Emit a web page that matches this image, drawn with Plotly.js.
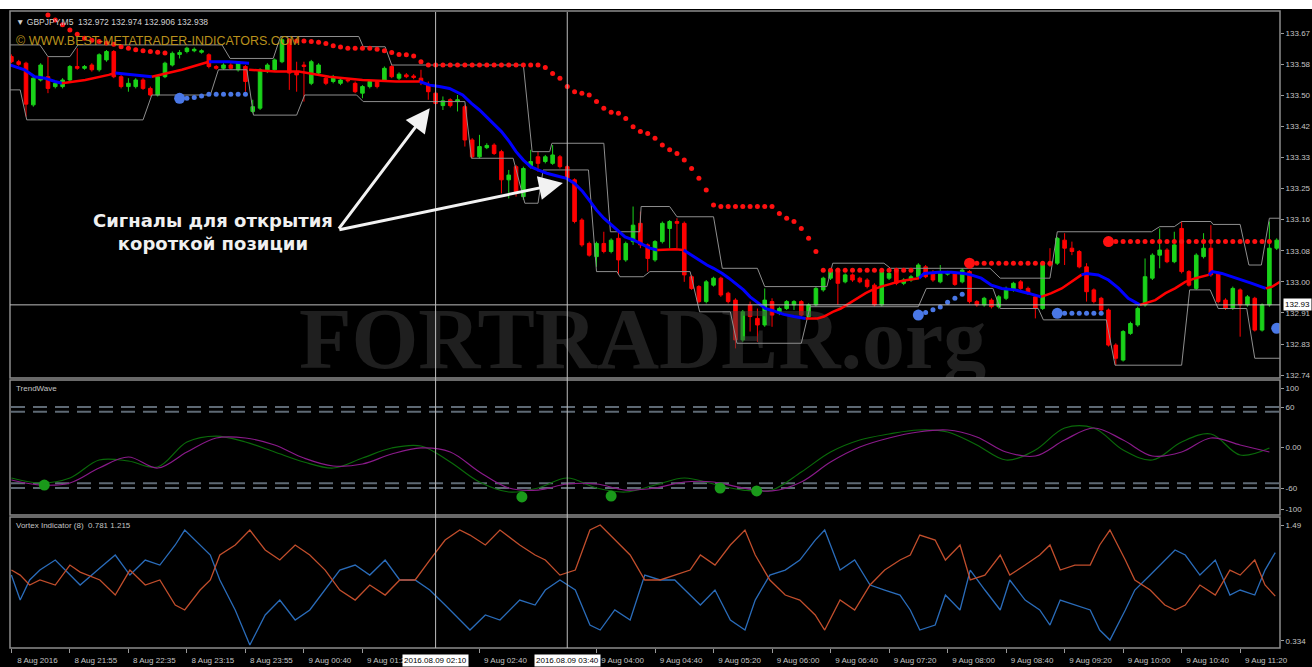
<!DOCTYPE html>
<html><head><meta charset="utf-8">
<script src="https://cdn.plot.ly/plotly-3.0.1.min.js"></script>
<style>html,body{margin:0;padding:0;background:#000;}#chart{width:1312px;height:667px;}</style>
</head><body><div id="chart"></div>
<script>
// ---------- price candles (GBPJPY M5), bar index 0 = 8 Aug 21:15 ----------
const opens = [133.611,133.597,133.593,133.479,133.547,133.556,133.529,133.529,133.547,133.584,
133.579,133.588,133.575,133.602,133.625,133.556,133.529,133.529,133.547,133.524,
133.506,133.556,133.588,133.617,133.625,133.627,133.623,133.616,133.584,133.579,
133.588,133.575,133.584,133.461,133.470,133.570,133.575,133.597,133.657,133.570,
133.588,133.538,133.566,133.552,133.543,133.538,133.547,133.538,133.511,133.529,
133.543,133.547,133.584,133.552,133.561,133.558,133.552,133.533,133.511,133.477,
133.493,133.488,133.474,133.383,133.337,133.362,133.369,133.351,133.274,133.310,
133.228,133.310,133.337,133.324,133.319,133.337,133.310,133.274,133.164,133.100,
133.064,133.100,133.078,133.114,133.055,133.105,133.155,133.096,133.055,133.105,
133.141,133.160,133.155,133.009,132.982,132.941,132.986,133.005,132.964,132.945,
132.836,132.932,132.895,132.877,132.941,132.909,132.922,132.932,132.941,132.900,
132.932,132.973,133.005,133.030,132.995,133.014,133.005,133.000,132.986,132.932,
133.005,133.023,132.991,133.000,133.009,133.036,133.018,132.995,133.016,133.018,
132.995,133.023,132.941,132.932,132.945,132.927,132.950,132.973,132.995,132.977,
132.954,132.922,133.046,133.046,133.109,133.087,133.078,133.036,132.973,132.950,
132.918,132.822,132.781,132.854,132.877,132.932,133.005,133.068,133.082,133.050,
133.141,133.023,132.977,133.064,133.087,133.018,132.945,132.922,132.973,132.932,
132.950,132.863,132.932,133.087];
const highs = [133.617,133.602,133.597,133.556,133.593,133.611,133.543,133.552,133.588,133.634,
133.588,133.593,133.620,133.629,133.629,133.561,133.552,133.552,133.552,133.529,
133.561,133.597,133.625,133.629,133.638,133.636,133.631,133.620,133.588,133.593,
133.593,133.597,133.588,133.493,133.579,133.593,133.606,133.661,133.661,133.597,
133.597,133.602,133.593,133.556,133.561,133.552,133.552,133.543,133.533,133.547,
133.547,133.584,133.588,133.568,133.566,133.563,133.575,133.543,133.515,133.502,
133.497,133.506,133.479,133.388,133.397,133.374,133.374,133.356,133.301,133.315,
133.310,133.356,133.351,133.342,133.369,133.342,133.315,133.278,133.169,133.105,
133.105,133.132,133.114,133.132,133.105,133.201,133.187,133.100,133.109,133.160,
133.164,133.169,133.160,133.014,132.986,133.000,133.009,133.009,132.968,132.950,
132.918,132.941,132.922,132.977,132.950,132.927,132.945,132.945,132.945,132.936,
132.982,133.009,133.032,133.034,133.018,133.018,133.009,133.005,132.991,133.027,
133.023,133.027,133.005,133.014,133.046,133.041,133.027,133.041,133.025,133.023,
133.032,133.027,132.945,132.954,132.950,132.959,132.982,132.995,133.000,132.982,
132.959,133.050,133.087,133.118,133.128,133.105,133.082,133.046,132.977,132.954,
132.922,132.827,132.863,132.886,132.927,133.059,133.073,133.141,133.087,133.132,
133.160,133.027,133.073,133.128,133.150,133.023,132.950,132.982,132.977,132.959,
132.954,132.936,133.160,133.114];
const lows = [133.593,133.586,133.447,133.474,133.543,133.511,133.524,133.524,133.543,133.575,
133.575,133.570,133.570,133.597,133.552,133.524,133.515,133.524,133.520,133.502,
133.502,133.552,133.584,133.606,133.620,133.623,133.619,133.579,133.575,133.575,
133.575,133.570,133.515,133.456,133.465,133.566,133.570,133.593,133.520,133.515,
133.488,133.533,133.561,133.533,133.538,133.533,133.540,133.511,133.497,133.524,
133.524,133.543,133.552,133.547,133.552,133.549,133.533,133.493,133.479,133.465,
133.472,133.461,133.365,133.333,133.333,133.358,133.342,133.237,133.223,133.228,
133.219,133.305,133.296,133.319,133.315,133.305,133.274,133.155,133.091,133.064,
133.036,133.073,133.073,133.014,133.050,133.096,133.087,133.023,133.050,133.100,
133.087,133.087,132.995,132.973,132.936,132.936,132.982,132.954,132.936,132.813,
132.831,132.859,132.831,132.872,132.872,132.904,132.918,132.918,132.900,132.895,
132.927,132.968,133.000,132.932,132.991,132.995,132.991,132.977,132.927,132.927,
133.000,132.986,132.986,132.995,133.005,133.005,132.995,132.991,133.012,132.984,
132.991,132.936,132.927,132.927,132.922,132.922,132.945,132.968,132.973,132.959,
132.895,132.918,133.036,133.041,133.041,133.068,133.032,132.941,132.936,132.913,
132.818,132.767,132.777,132.850,132.872,132.927,133.000,133.032,133.046,133.046,
133.018,132.982,132.973,133.059,133.009,132.936,132.918,132.918,132.845,132.927,
132.859,132.859,132.927,133.082];
const closes = [133.597,133.590,133.481,133.552,133.588,133.524,133.538,133.547,133.584,133.579,
133.584,133.575,133.616,133.625,133.556,133.529,133.538,133.547,133.524,133.506,
133.556,133.593,133.620,133.622,133.634,133.631,133.627,133.584,133.579,133.588,
133.579,133.593,133.543,133.474,133.575,133.588,133.602,133.657,133.566,133.561,
133.584,133.597,133.588,133.538,133.556,133.547,133.545,133.515,133.529,133.543,
133.529,133.579,133.556,133.563,133.556,133.554,133.543,133.515,133.483,133.490,
133.477,133.493,133.383,133.337,133.365,133.368,133.346,133.274,133.287,133.242,
133.305,133.324,133.319,133.337,133.342,133.310,133.278,133.160,133.096,133.068,
133.100,133.078,133.109,133.055,133.100,133.150,133.096,133.059,133.105,133.155,
133.160,133.155,133.014,132.977,132.941,132.995,133.005,132.959,132.941,132.836,
132.913,132.900,132.877,132.945,132.904,132.922,132.941,132.941,132.904,132.932,
132.977,133.005,133.027,132.991,133.014,133.000,132.995,132.982,132.932,133.023,
133.018,132.991,133.000,133.009,133.041,133.009,133.000,133.018,133.021,132.988,
133.027,132.941,132.932,132.950,132.927,132.954,132.977,132.991,132.977,132.964,
132.922,133.046,133.041,133.114,133.087,133.078,133.036,132.968,132.941,132.918,
132.822,132.786,132.859,132.881,132.922,133.009,133.068,133.082,133.050,133.096,
133.023,132.986,133.068,133.087,133.014,132.941,132.922,132.977,132.932,132.954,
132.863,132.932,133.087,133.109];

// ---------- price channel (gray) breakpoints ----------
const bandUpX = [-0.2,3.9,5.0,8.0,9.1,28.8,29.9,35.8,36.8,47.5,48.1,51.1,52.0,70.0,71.2,73.6,73.9,81.0,81.9,85.9,86.1,90.0,91.0,96.0,97.2,102.0,103.0,111.5,112.3,119.3,120.2,133.8,135.2,142.0,143.0,155.9,157.0,159.0,160.0,164.0,164.3,168.0,169.2,170.9,172.0,173.45];
const bandUpY = [133.643,133.643,133.611,133.611,133.643,133.643,133.606,133.606,133.666,133.666,133.638,133.638,133.588,133.588,133.351,133.351,133.374,133.374,133.132,133.132,133.201,133.201,133.173,133.173,133.032,133.032,132.982,132.982,133.046,133.046,133.032,133.032,133.005,133.005,133.132,133.132,133.146,133.146,133.160,133.160,133.152,133.152,133.041,133.041,133.169,133.169];
const bandLoX = [-0.2,1.2,2.1,18.0,19.2,27.2,28.3,32.2,33.1,39.0,40.1,47.2,48.1,62.0,62.9,68.6,70.2,72.0,72.7,78.9,80.0,82.8,83.2,86.4,87.3,92.8,94.1,98.3,99.2,108.0,109.2,124.0,125.1,134.2,135.2,140.4,141.1,149.7,150.9,160.0,161.1,163.9,165.0,168.9,170.0,173.45];
const bandLoY = [133.520,133.520,133.438,133.438,133.506,133.506,133.575,133.575,133.451,133.451,133.506,133.506,133.488,133.488,133.333,133.333,133.210,133.210,133.301,133.301,133.023,133.023,133.009,133.009,133.023,133.023,132.913,132.913,132.827,132.827,132.927,132.927,132.977,132.977,132.922,132.922,132.891,132.891,132.767,132.767,132.973,132.973,132.922,132.922,132.786,132.786];

// ---------- trend MA (blue / red segments) ----------
const maBlueX = [-0.2,1.8,3.2,4.6,5.95,6.9,null,14.2,16.9,19.2,null,27.0,29.7,32.5,null,
55.8,57.2,58.5,59.9,61.7,62.9,64.0,64.9,65.9,67.0,68.1,69.0,70.0,71.0,72.0,73.2,74.5,75.9,77.0,78.1,79.1,80.0,81.0,82.1,83.0,83.9,85.1,86.0,87.3,88.3,null,
91.9,94.0,95.1,96.0,97.2,98.1,99.2,100.1,101.0,102.2,103.1,104.3,105.6,107.0,108.6,null,
124.1,124.8,126.7,128.5,130.3,131.2,132.6,134.0,135.4,137.2,139.0,140.8,null,
146.3,147.0,148.6,150.0,151.4,152.7,154.3,null,
163.7,164.2,165.5,166.9,168.3,169.6,171.5];
const maBlueY = [133.588,133.575,133.556,133.552,133.543,133.538,null,133.566,133.561,133.556,null,133.597,133.597,133.593,null,
133.543,133.533,133.529,133.524,133.506,133.483,133.465,133.447,133.429,133.406,133.378,133.351,133.328,133.310,133.301,133.292,133.285,133.278,133.264,133.242,133.216,133.191,133.169,133.150,133.132,133.118,133.109,133.100,133.087,133.082,null,
133.082,133.055,133.041,133.032,133.018,133.005,132.986,132.973,132.954,132.936,132.922,132.915,132.906,132.900,132.895,null,
133.005,133.018,133.021,133.021,133.018,133.014,133.005,132.986,132.977,132.973,132.964,132.954,null,
133.014,133.018,133.014,133.000,132.977,132.950,132.932,null,
133.014,133.023,133.018,133.009,133.000,132.991,132.977];
const maRedX = [6.9,10.1,13.3,14.2,null,19.2,23.3,27.0,null,32.5,36.1,39.3,43.45,48.0,52.6,55.8,null,
88.3,90.8,91.9,null,
108.6,110.2,111.1,112.3,113.4,114.5,115.7,116.8,117.7,118.9,120.0,121.2,122.5,124.1,null,
140.8,142.2,143.6,145.0,146.3,null,
154.3,156.4,157.8,159.1,160.5,161.9,163.7,null,
171.5,172.4,173.45];
const maRedY = [133.538,133.547,133.561,133.566,null,133.556,133.575,133.597,null,133.575,133.570,133.570,133.556,133.547,133.543,133.543,null,
133.082,133.084,133.082,null,
132.895,132.895,132.900,132.913,132.922,132.936,132.950,132.964,132.973,132.982,132.988,132.995,133.000,133.005,null,
132.954,132.964,132.977,132.995,133.014,null,
132.932,132.945,132.964,132.977,132.995,133.005,133.014,null,
132.977,132.982,132.995];

// ---------- stop dots: start bar + values ----------
const redStopA_start = 5;
const redStopA = [133.725,133.711,133.698,133.684,133.672,133.661,133.656,133.652,133.648,133.645,133.638,133.634,133.630,133.627,133.625,133.623,133.621];
const redStopB_start = 38;
const redStopB = [133.654,133.654,133.654,133.652,133.650,133.647,133.641,133.637,133.634,133.634,
133.634,133.634,133.631,133.627,133.622,133.617,133.616,133.613,133.597,
133.588,133.588,133.588,133.588,133.588,133.588,133.588,133.588,133.588,133.588,133.588,133.588,133.588,133.588,133.588,133.588,
133.581,133.565,133.552,133.529,133.515,133.511,133.506,133.488,133.470,133.459,133.456,133.442,133.419,133.406,133.401,
133.388,133.369,133.356,133.346,133.328,133.305,133.278,133.246,133.205,
133.201,133.201,133.201,133.201,133.201,133.201,133.201,133.201,
133.182,133.169,133.160,133.141,133.114,133.078,
133.027,133.027,133.027,133.027,133.027,133.027,133.027,133.027,133.027,133.027,133.027,133.027,133.027];
const redStopC_start = 131;
const redStopC = [133.046,133.046,133.046,133.046,133.046,133.046,133.046,133.046,133.046,133.046,133.046,133.046];
const redStopD_start = 150;
const redStopD = [133.105,133.105,133.105,133.105,133.105,133.105,133.105,133.105,133.105,133.105,133.105,133.105,
133.105,133.105,133.105,133.105,133.105,133.105,133.105,133.105,133.105,133.105,133.105];
const blueStopE_start = 23;
const blueStopE = [133.497,133.497,133.499,133.503,133.508,133.508,133.508,133.508,133.508,133.508];
const blueStopF_start = 124;
const blueStopF = [132.904,132.911,132.919,132.926,132.939,132.950,132.961];
const blueStopG_start = 143;
const blueStopG = [132.909,132.909,132.909,132.909,132.909,132.909,132.909];
const blueStopH_start = 173;
const blueStopH = [132.868];

// ---------- TrendWave ----------
const twBars = [0,4,8,12,16,20,24,28,32,36,40,44,48,52,56,60,64,68,72,76,80,84,88,92,96,100,104,108,112,116,120,124,128,132,136,140,144,148,152,156,160,164,168,172];
const twGreen = [-45.2,-52.6,-45.2,-18.5,-20.0,-28.9,8.1,17.0,8.1,-6.7,-21.5,-30.4,-15.6,-0.7,2.2,-21.5,-51.1,-65.9,-60.0,-45.2,-60.0,-65.9,-55.6,-45.2,-54.1,-63.0,-63.0,-36.3,-6.7,11.1,20.0,25.9,23.0,3.7,-18.5,-3.7,28.9,28.9,-3.7,-18.5,8.1,20.0,-11.1,-0.7];
const twPurple = [-48.1,-55.6,-52.6,-30.4,-14.1,-30.4,-6.7,14.1,14.1,3.7,-15.6,-27.4,-24.4,-9.6,-0.7,-6.7,-36.3,-60.0,-63.0,-54.1,-54.1,-63.0,-60.0,-51.1,-51.1,-60.0,-64.4,-51.1,-21.5,0.7,14.1,23.0,25.9,15.6,-6.7,-12.6,11.1,28.9,11.1,-12.6,-6.7,14.1,3.7,-6.7];
const twSignalBars = [4.5,69.8,82.0,96.9,101.9];
const twSignalVals = [-55.6,-73.3,-71.9,-60.0,-64.4];
const twLevels = [60,53,-53,-60];

// ---------- Vortex (8) ----------
const vxBars = [0,1.2,2.5,3.9,6.0,8.0,9.4,12.1,14.2,16.2,18.3,20.3,22.4,23.7,25.8,27.2,28.5,30.6,32.6,34.7,36.7,38.8,40.8,42.9,44.9,47.0,49.0,51.1,53.1,55.2,57.2,59.3,61.3,62.7,64.8,66.8,69.5,71.6,73.0,75.0,77.1,79.1,80.5,82.5,84.6,86.6,88.7,90.7,92.8,94.2,96.2,98.3,100.3,101.7,103.7,105.8,107.8,109.9,111.2,113.3,115.3,117.4,119.4,121.5,122.9,124.2,126.3,127.7,129.7,131.1,133.1,135.2,136.5,138.6,140.6,142.0,143.4,145.4,147.5,148.8,150.2,152.3,153.6,155.7,157.7,159.1,160.5,162.5,164.6,166.6,168.0,170.0,171.4,172.8];
const vxBlue = [0.991,0.742,0.942,1.041,1.141,0.991,0.892,1.061,1.191,0.991,1.141,1.091,1.291,1.440,1.291,1.191,0.942,0.643,0.294,0.593,0.742,0.543,0.643,0.842,1.041,1.091,0.991,1.141,0.942,0.942,0.842,0.692,0.543,0.443,0.593,0.543,0.742,0.692,0.842,0.942,0.842,0.493,0.443,0.643,0.543,0.991,0.942,0.942,0.792,0.692,0.842,0.543,0.443,0.742,0.991,1.041,1.141,1.340,1.440,1.041,1.141,0.892,0.842,0.792,0.643,0.443,0.493,0.792,0.643,1.041,0.842,0.643,0.942,0.742,0.643,0.493,0.742,0.692,0.643,0.443,0.343,0.643,0.842,0.991,1.141,1.241,1.191,0.991,1.141,0.792,0.842,0.792,1.041,1.215];
const vxOrange = [1.041,0.991,0.892,0.942,0.892,1.091,1.021,0.942,0.792,1.041,0.892,0.942,0.692,0.643,0.842,0.942,1.191,1.291,1.440,1.241,1.141,1.291,1.191,1.041,0.842,0.742,0.892,0.792,0.942,0.942,1.141,1.340,1.440,1.390,1.291,1.440,1.291,1.191,1.141,0.991,1.041,1.440,1.490,1.340,1.191,0.942,0.942,0.991,1.041,1.191,1.091,1.291,1.440,1.191,0.942,0.792,0.742,0.593,0.443,0.742,0.643,0.892,1.041,1.141,1.191,1.390,1.340,1.141,1.291,0.942,0.991,1.191,0.991,1.091,1.191,1.291,1.041,1.091,1.091,1.291,1.440,1.141,0.942,0.842,0.692,0.643,0.692,0.892,0.792,1.041,0.991,1.141,0.892,0.781];

// ---------- axis labels ----------
const timeTickBars = [0,8,16,24,32,40,48,64,80,88,96,104,112,120,128,136,144,152,160,168];
const timeTickText = ["8 Aug 2016","8 Aug 21:55","8 Aug 22:35","8 Aug 23:15","8 Aug 23:55","9 Aug 00:40","9 Aug 01:20","9 Aug 02:40","9 Aug 04:00","9 Aug 04:40","9 Aug 05:20","9 Aug 06:00","9 Aug 06:40","9 Aug 07:20","9 Aug 08:00","9 Aug 08:40","9 Aug 09:20","9 Aug 10:00","9 Aug 10:40","9 Aug 11:20"];
const priceTicks = [133.675,133.590,133.505,133.420,133.335,133.250,133.165,133.080,132.995,132.910,132.825,132.740];
const priceTickText = ["133.67","133.58","133.50","133.42","133.33","133.25","133.16","133.08","133.00","132.91","132.83","132.74"];
const cursorBars = [58,76];
const cursorLabels = ["2016.08.09 02:10","2016.08.09 03:40"];
const cursorPrice = 132.932;
const cursorPriceText = "132.93";

// ---------- build ----------
const PX = x => x/1312, PY = y => 1 - y/667;
const idx = opens.map((_, i) => i);
const seq = (s, arr) => arr.map((_, i) => s + i);
const GRAYTXT = '#c4c4c4';

const traces = [];
traces.push({type:'scatter', mode:'text', x:[86.3], y:[132.819], text:['FORTRADER.org'],
  textfont:{family:'Liberation Serif', size:86, color:'rgba(62,62,62,0.5)', weight:'bold'},
  hoverinfo:'skip', xaxis:'x', yaxis:'y'});
traces.push({type:'candlestick', x:idx, open:opens, high:highs, low:lows, close:closes,
  increasing:{line:{color:'#1ad21a', width:1}, fillcolor:'#1ad21a'},
  decreasing:{line:{color:'#ff0000', width:1}, fillcolor:'#ff0000'},
  whiskerwidth:0, hoverinfo:'skip', xaxis:'x', yaxis:'y'});
traces.push({type:'scatter', mode:'lines', x:bandUpX, y:bandUpY, line:{color:'#8e8e8e', width:1}, hoverinfo:'skip'});
traces.push({type:'scatter', mode:'lines', x:bandLoX, y:bandLoY, line:{color:'#8e8e8e', width:1}, hoverinfo:'skip'});
traces.push({type:'scatter', mode:'lines', x:maBlueX, y:maBlueY, line:{color:'#0000ff', width:3}, connectgaps:false, hoverinfo:'skip'});
traces.push({type:'scatter', mode:'lines', x:maRedX, y:maRedY, line:{color:'#ff0000', width:2.5}, connectgaps:false, hoverinfo:'skip'});
[[redStopA_start,redStopA],[redStopB_start,redStopB],[redStopC_start,redStopC],[redStopD_start,redStopD]].forEach(([s,a]) => {
  traces.push({type:'scatter', mode:'markers', x:seq(s,a), y:a, marker:{color:'#ff1010', size:5}, hoverinfo:'skip'});
});
[[blueStopE_start,blueStopE],[blueStopF_start,blueStopF],[blueStopG_start,blueStopG],[blueStopH_start,blueStopH]].forEach(([s,a]) => {
  traces.push({type:'scatter', mode:'markers', x:seq(s,a), y:a, marker:{color:'#4a78e6', size:5}, hoverinfo:'skip'});
});
traces.push({type:'scatter', mode:'markers', x:[redStopC_start, redStopD_start], y:[redStopC[0], redStopD[0]], marker:{color:'#ff1010', size:11}, hoverinfo:'skip'});
traces.push({type:'scatter', mode:'markers', x:[blueStopE_start, blueStopF_start, blueStopG_start, blueStopH_start], y:[blueStopE[0], blueStopF[0], blueStopG[0], blueStopH[0]], marker:{color:'#4a78e6', size:11}, hoverinfo:'skip'});
// TrendWave
traces.push({type:'scatter', mode:'lines', x:twBars, y:twGreen, line:{color:'#0a6a0a', width:1.2, shape:'spline'}, xaxis:'x', yaxis:'y2', hoverinfo:'skip'});
traces.push({type:'scatter', mode:'lines', x:twBars, y:twPurple, line:{color:'#8a1a8a', width:1.2, shape:'spline'}, xaxis:'x', yaxis:'y2', hoverinfo:'skip'});
traces.push({type:'scatter', mode:'markers', x:twSignalBars, y:twSignalVals, marker:{color:'#1a9a1a', size:11}, xaxis:'x', yaxis:'y2', hoverinfo:'skip'});
// Vortex
traces.push({type:'scatter', mode:'lines', x:vxBars, y:vxBlue, line:{color:'#2a6cba', width:1.3}, xaxis:'x', yaxis:'y3', hoverinfo:'skip'});
traces.push({type:'scatter', mode:'lines', x:vxBars, y:vxOrange, line:{color:'#c24e2c', width:1.3}, xaxis:'x', yaxis:'y3', hoverinfo:'skip'});

const frame = (y0, y1) => ({type:'rect', xref:'paper', yref:'paper', x0:PX(10), x1:PX(1280), y0:PY(y1), y1:PY(y0),
  line:{color:'#8c8c8c', width:1.5}, fillcolor:'rgba(0,0,0,0)', layer:'above'});
const shapes = [
  {type:'rect', xref:'paper', yref:'paper', x0:0, x1:1, y0:PY(9), y1:1, fillcolor:'#ffffff', line:{width:0}, layer:'above'},
  frame(11,378), frame(380,515), frame(517,648)
];
twLevels.forEach(v => shapes.push({type:'line', xref:'paper', yref:'y2', x0:PX(11), x1:PX(1279), y0:v, y1:v,
  line:{color:'#5e6974', width:2, dash:'14px,8px'}, layer:'below'}));
cursorBars.forEach(b => shapes.push({type:'line', xref:'x', yref:'paper', x0:b, x1:b, y0:PY(648), y1:PY(12),
  line:{color:'#bdbdbd', width:1}, layer:'above'}));
shapes.push({type:'line', xref:'paper', yref:'y', x0:PX(10), x1:PX(1280), y0:cursorPrice, y1:cursorPrice,
  line:{color:'#bdbdbd', width:1}, layer:'above'});

const annotations = [
  {xref:'paper', yref:'paper', x:PX(14), y:PY(22), xanchor:'left', yanchor:'middle', showarrow:false,
   text:'▼ GBPJPY,M5  132.972 132.974 132.906 132.938', font:{family:'Liberation Sans', size:8.5, color:'#d0d0d0'}},
  {xref:'paper', yref:'paper', x:PX(14), y:PY(41), xanchor:'left', yanchor:'middle', showarrow:false,
   text:'© WWW.BEST-METATRADER-INDICATORS.COM', font:{family:'Liberation Sans', size:12.5, color:'#b9911c'}},
  {xref:'paper', yref:'paper', x:PX(14), y:PY(388), xanchor:'left', yanchor:'middle', showarrow:false,
   text:'TrendWave', font:{family:'Liberation Sans', size:8, color:GRAYTXT}},
  {xref:'paper', yref:'paper', x:PX(14), y:PY(525), xanchor:'left', yanchor:'middle', showarrow:false,
   text:'Vortex Indicator (8)  0.781 1.215', font:{family:'Liberation Sans', size:8, color:GRAYTXT}},
  {xref:'paper', yref:'paper', x:PX(213), y:PY(231.5), xanchor:'center', yanchor:'middle', align:'center', showarrow:false,
   text:'<b>Сигналы для открытия<br>короткой позиции</b>', font:{family:'DejaVu Sans', size:18, color:'#f0f0f0'}},
  {xref:'x', yref:'y', x:57.2, y:133.470, ax:-92, ay:122, text:'', showarrow:true, arrowcolor:'#f2f2f2', arrowwidth:3, arrowhead:2, arrowsize:1.6, standoff:0},
  {xref:'x', yref:'y', x:75.4, y:133.265, ax:-225, ay:47, text:'', showarrow:true, arrowcolor:'#f2f2f2', arrowwidth:3, arrowhead:2, arrowsize:1.6, standoff:0},
  {xref:'paper', yref:'y', x:PX(1283), y:cursorPrice, xanchor:'left', yanchor:'middle', showarrow:false,
   text:cursorPriceText, bgcolor:'#ffffff', borderpad:1, font:{family:'Liberation Sans', size:8, color:'#000'}}
];
cursorBars.forEach((b, i) => annotations.push({xref:'x', yref:'paper', x:b, y:PY(660), xanchor:'center', yanchor:'middle', showarrow:false,
  text:cursorLabels[i], bgcolor:'#ffffff', borderpad:1, font:{family:'Liberation Sans', size:8, color:'#000'}}));

const yCommon = {side:'right', anchor:'x', showgrid:false, zeroline:false, showline:false, ticks:'outside', ticklen:3,
  tickcolor:'#9a9a9a', tickfont:{family:'Liberation Sans', size:8, color:GRAYTXT}, fixedrange:true};
const layout = {
  width:1312, height:667, margin:{l:0, r:0, t:0, b:0},
  paper_bgcolor:'#000', plot_bgcolor:'#000', showlegend:false,
  xaxis:{domain:[PX(10), PX(1280)], range:[-0.19, 173.45], anchor:'y3', showgrid:false, zeroline:false, showline:false,
    tickmode:'array', tickvals:timeTickBars, ticktext:timeTickText, ticks:'outside', ticklen:4, tickcolor:'#9a9a9a',
    ticklabelshift:26, tickfont:{family:'Liberation Sans', size:8, color:GRAYTXT}, rangeslider:{visible:false}, fixedrange:true},
  yaxis:Object.assign({}, yCommon, {domain:[PY(378), PY(12)], range:[132.732, 133.733], tickmode:'array',
    tickvals:priceTicks, ticktext:priceTickText}),
  yaxis2:Object.assign({}, yCommon, {domain:[PY(515), PY(380)], range:[-100, 100], tickmode:'array',
    tickvals:[88, 60, 0, -60, -92], ticktext:['100','60','0.00','-60','-100']}),
  yaxis3:Object.assign({}, yCommon, {domain:[PY(648), PY(517)], range:[0.264, 1.570], tickmode:'array',
    tickvals:[1.49, 0.334], ticktext:['1.49','0.334']}),
  shapes:shapes, annotations:annotations
};
Plotly.newPlot('chart', traces, layout, {displayModeBar:false, staticPlot:true});
</script></body></html>
